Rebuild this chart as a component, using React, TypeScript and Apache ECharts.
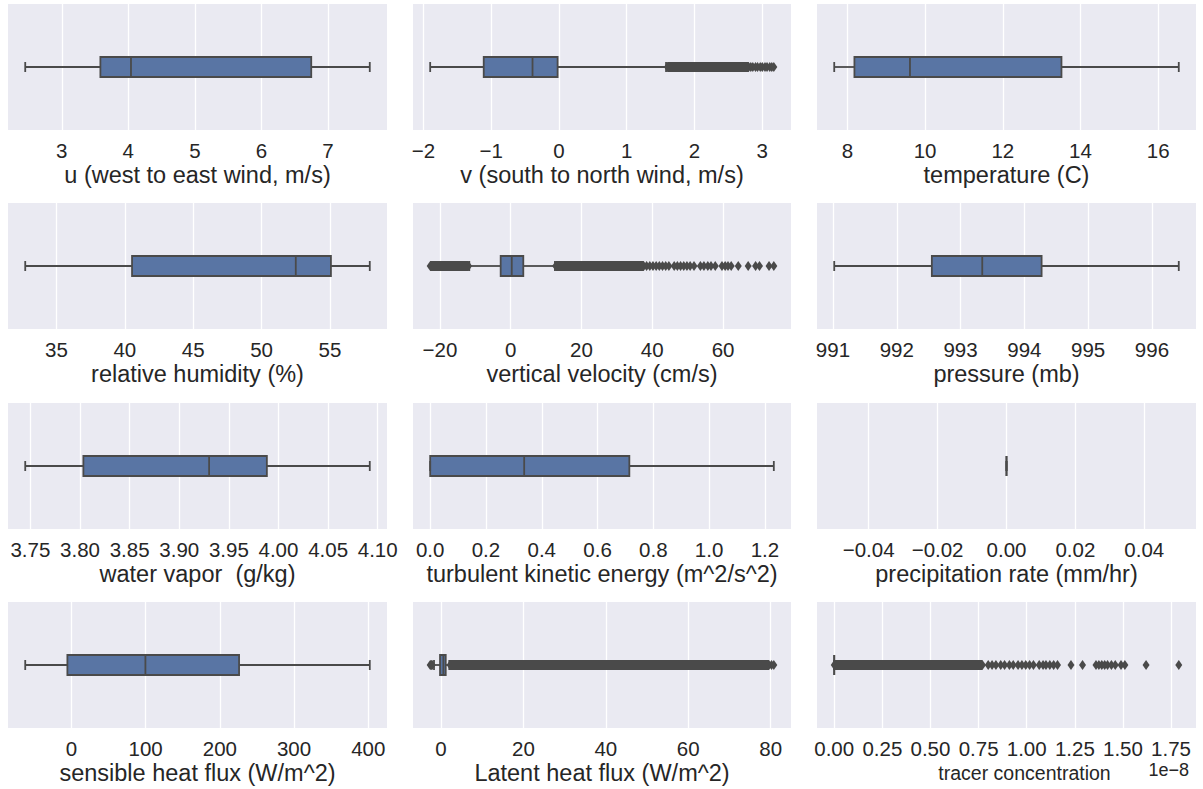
import React, { useEffect, useRef } from "react";
import * as echarts from "echarts";

// ---------- data ----------
const titles = [
  "u (west to east wind, m/s)",
  "v (south to north wind, m/s)",
  "temperature (C)",
  "relative humidity (%)",
  "vertical velocity (cm/s)",
  "pressure (mb)",
  "water vapor  (g/kg)",
  "turbulent kinetic energy (m^2/s^2)",
  "precipitation rate (mm/hr)",
  "sensible heat flux (W/m^2)",
  "Latent heat flux (W/m^2)",
  "tracer concentration",
];

// [lower whisker, Q1, median, Q3, upper whisker]
const uBox = [2.45, 3.58, 4.04, 6.75, 7.63];
const vBox = [-1.9, -1.11, -0.39, -0.02, 1.58];
const tempBox = [7.66, 8.18, 9.61, 13.51, 16.53];
const rhBox = [32.72, 40.53, 52.5, 55.07, 57.91];
const vvBox = [-11.7, -2.83, 0.3, 3.56, 12.5];
const presBox = [991.02, 992.55, 993.34, 994.27, 996.42];
const wvBox = [3.7448, 3.8034, 3.9301, 3.9883, 4.092];
const tkeBox = [0, 0, 0.337, 0.714, 1.232];
const precipBox = [0, 0, 0, 0, 0];
const shfBox = [-62.2, -5.4, 99.7, 225.9, 402];
const lhfBox = [-1.7, -0.24, 0.57, 1.14, 2.0];
const tracerBox = [0, 0, 0, 0, 0]; // x 1e-8

// individual outliers (fliers)
const vOutliers = [2.83, 2.86, 2.9, 2.93, 2.97, 3.0, 3.04, 3.07, 3.11, 3.14, 3.17];
const vvOutliers = [
  38.4, 39.3, 40.2, 41.1, 42.0, 42.9, 43.8, 44.7, 46.2, 47.1, 48.0, 48.9, 49.8,
  50.7, 51.8, 53.6, 54.6, 55.7, 56.6, 57.8, 59.7, 60.6, 61.4, 62.3, 64.3, 67.1,
  69.2, 70.3, 73.0, 74.35,
];
const lhfOutliers = [-2.63, -2.45, -2.3, -2.15, 80.2, 80.76];
const tracerOutliers = [
  0.8, 0.82, 0.84, 0.865, 0.885, 0.91, 0.93, 0.955, 0.975, 0.995, 1.015, 1.035,
  1.065, 1.085, 1.1, 1.12, 1.14, 1.16, 1.23, 1.29, 1.36, 1.375, 1.39, 1.405,
  1.42, 1.44, 1.46, 1.49, 1.51, 1.62, 1.79,
];
const noOutliers: number[] = [];

// ranges where fliers overlap into a solid run: [from, to]
const vBands = [[1.6, 2.8]];
const vvBands = [[-22.75, -11.9], [12.7, 37.6]];
const lhfBands = [[2.2, 79.6]];
const tracerBands = [[0, 0.77]];
const noBands: number[][] = [];

// tick values
const uTicks = [3, 4, 5, 6, 7];
const vTicks = [-2, -1, 0, 1, 2, 3];
const tempTicks = [8, 10, 12, 14, 16];
const rhTicks = [35, 40, 45, 50, 55];
const vvTicks = [-20, 0, 20, 40, 60];
const presTicks = [991, 992, 993, 994, 995, 996];
const wvTicks = [3.75, 3.8, 3.85, 3.9, 3.95, 4.0, 4.05, 4.1];
const tkeTicks = [0, 0.2, 0.4, 0.6, 0.8, 1.0, 1.2];
const precipTicks = [-0.04, -0.02, 0, 0.02, 0.04];
const shfTicks = [0, 100, 200, 300, 400];
const lhfTicks = [0, 20, 40, 60, 80];
const tracerTicks = [0, 0.25, 0.5, 0.75, 1.0, 1.25, 1.5, 1.75];
const tickDecimals = [0, 0, 0, 0, 0, 0, 2, 1, 2, 0, 0, 2];

const boxes = [uBox, vBox, tempBox, rhBox, vvBox, presBox, wvBox, tkeBox, precipBox, shfBox, lhfBox, tracerBox];
const outlierSets = [noOutliers, vOutliers, noOutliers, noOutliers, vvOutliers, noOutliers, noOutliers, noOutliers, noOutliers, noOutliers, lhfOutliers, tracerOutliers];
const bandSets = [noBands, vBands, noBands, noBands, vvBands, noBands, noBands, noBands, noBands, noBands, lhfBands, tracerBands];
const tickSets = [uTicks, vTicks, tempTicks, rhTicks, vvTicks, presTicks, wvTicks, tkeTicks, precipTicks, shfTicks, lhfTicks, tracerTicks];

// ---------- layout / style ----------
const FONT = "'Liberation Sans', Arial, sans-serif";
const TEXT = "#262626";
const BG = "#EAEAF2";
const BOX_FILL = "#5975a4";
const LINE = "#4a4a4a";
const LW = 1.8;
const BOX_H = 20;
const CAP_H = 10;
const GRID_LEFTS = [8, 413, 817];
const GRID_WIDTHS = [379, 378, 379];
const GRID_TOPS = [4, 203, 403, 602];
const GRID_H = 126;

function extent(i: number): [number, number] {
  const vals: number[] = [...boxes[i], ...outlierSets[i]];
  bandSets[i].forEach((b) => vals.push(b[0], b[1]));
  let lo = Math.min(...vals);
  let hi = Math.max(...vals);
  if (hi - lo === 0) {
    lo -= 0.05;
    hi += 0.05;
  }
  const pad = (hi - lo) * 0.05;
  return [lo - pad, hi + pad];
}

function fmt(v: number, d: number) {
  const s = Math.abs(v) < 1e-12 ? (0).toFixed(d) : v.toFixed(d);
  return s.replace("-", "\u2212");
}

const renderBox = (_params: any, api: any) => {
  const xs = [0, 1, 2, 3, 4].map((k) => api.coord([api.value(k), 0])[0]);
  const yc = api.coord([0, 0])[1];
  const [xl, x1, xm, x3, xh] = xs;
  const line = (a: number, b: number, c: number, d: number) => ({
    type: "line",
    shape: { x1: a, y1: b, x2: c, y2: d },
    style: { stroke: LINE, lineWidth: LW },
  });
  return {
    type: "group",
    children: [
      {
        type: "rect",
        shape: { x: x1, y: yc - BOX_H / 2, width: x3 - x1, height: BOX_H },
        style: { fill: BOX_FILL, stroke: LINE, lineWidth: LW },
      },
      line(xl, yc, x1, yc),
      line(x3, yc, xh, yc),
      line(xl, yc - CAP_H / 2, xl, yc + CAP_H / 2),
      line(xh, yc - CAP_H / 2, xh, yc + CAP_H / 2),
      line(xm, yc - BOX_H / 2, xm, yc + BOX_H / 2),
    ],
  };
};

const renderBand = (_params: any, api: any) => {
  const x0 = api.coord([api.value(0), 0])[0];
  const x1 = api.coord([api.value(1), 0])[0];
  const yc = api.coord([0, 0])[1];
  const hw = 3.5;
  const hh = 5;
  return {
    type: "polygon",
    shape: {
      points: [
        [x0 - hw, yc],
        [x0, yc - hh],
        [x1, yc - hh],
        [x1 + hw, yc],
        [x1, yc + hh],
        [x0, yc + hh],
      ],
    },
    style: { fill: LINE },
  };
};

export default function App() {
  const ref = useRef<HTMLDivElement>(null);
  useEffect(() => {
    if (!ref.current) return;
    const chart = echarts.init(ref.current, undefined, { renderer: "svg" });
    const grid: any[] = [];
    const xAxis: any[] = [];
    const yAxis: any[] = [];
    const series: any[] = [];
    titles.forEach((title, i) => {
      const col = i % 3;
      const row = Math.floor(i / 3);
      const [lo, hi] = extent(i);
      const isTracer = i === 11;
      grid.push({
        left: GRID_LEFTS[col],
        top: GRID_TOPS[row],
        width: GRID_WIDTHS[col],
        height: GRID_H,
        show: true,
        backgroundColor: BG,
        borderWidth: 0,
        containLabel: false,
        outerBoundsMode: "none",
      });
      xAxis.push({
        type: "value",
        gridIndex: i,
        min: lo,
        max: hi,
        name: title,
        nameLocation: "middle",
        nameGap: isTracer ? 35 : 33,
        nameTextStyle: {
          fontSize: isTracer ? 19.5 : 23.5,
          color: TEXT,
          fontFamily: FONT,
          padding: isTracer ? [0, 0, 0, 36] : 0,
        },
        axisLine: { show: false },
        axisTick: { show: false, customValues: tickSets[i] },
        axisLabel: {
          customValues: tickSets[i],
          formatter: (v: number) => fmt(v, tickDecimals[i]),
          fontSize: 20.5,
          color: TEXT,
          fontFamily: FONT,
          margin: 10,
          showMinLabel: true,
          showMaxLabel: true,
        },
        splitLine: { show: true, lineStyle: { color: "#ffffff", width: 1.3 } },
      });
      yAxis.push({ type: "value", gridIndex: i, min: -1, max: 1, show: false });
      series.push({
        type: "custom",
        xAxisIndex: i,
        yAxisIndex: i,
        renderItem: renderBox,
        data: [boxes[i]],
        z: 2,
        silent: true,
      });
      if (bandSets[i].length) {
        series.push({
          type: "custom",
          xAxisIndex: i,
          yAxisIndex: i,
          renderItem: renderBand,
          data: bandSets[i],
          z: 3,
          silent: true,
        });
      }
      if (outlierSets[i].length) {
        series.push({
          type: "scatter",
          xAxisIndex: i,
          yAxisIndex: i,
          symbol: "diamond",
          symbolSize: [7, 10],
          itemStyle: { color: LINE, opacity: 1 },
          data: outlierSets[i].map((v) => [v, 0]),
          z: 4,
          silent: true,
        });
      }
    });
    chart.setOption({
      animation: false,
      backgroundColor: "#ffffff",
      grid,
      xAxis,
      yAxis,
      series,
      graphic: [
        {
          type: "text",
          x: 1189,
          y: 770,
          style: {
            text: "1e\u22128",
            fontSize: 18,
            fontFamily: FONT,
            fill: TEXT,
            align: "right",
            verticalAlign: "middle",
          },
        },
      ],
    });
    return () => chart.dispose();
  }, []);
  return (
    <div
      ref={ref}
      style={{ position: "fixed", left: 0, top: 0, width: 1203, height: 789 }}
    />
  );
}
